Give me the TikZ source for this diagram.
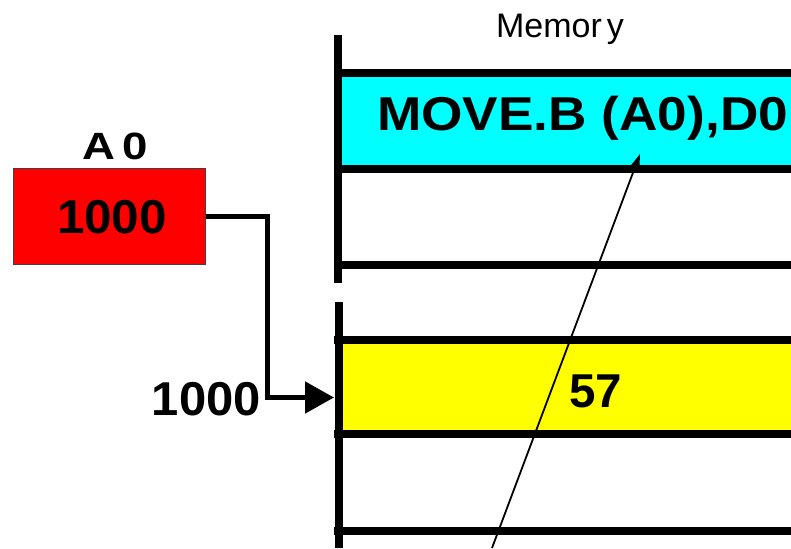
\documentclass[tikz,border=0pt]{standalone}
\usepackage{fontspec}
\setmainfont{Liberation Sans}
\usetikzlibrary{arrows.meta}
\definecolor{cellcyan}{RGB}{0,255,255}
\definecolor{cellyellow}{RGB}{255,255,0}
\definecolor{regred}{RGB}{255,0,0}
\begin{document}
\begin{tikzpicture}[x=1pt,y=-1pt,
  memline/.style={line width=8pt},
  cell/.style={rectangle, draw=none, inner sep=0pt, outer sep=0pt},
  conn/.style={line width=5pt, line join=miter, -{Triangle[length=29pt,width=31pt]}},
  ptr/.style={line width=1.8pt, -{Stealth[length=17pt,width=11pt,inset=5pt]}},
  bigtxt/.style={font=\fontsize{47.5}{47.5}\selectfont\bfseries, inner sep=0pt},
  lbltxt/.style={font=\fontsize{38}{38}\selectfont\bfseries, inner sep=0pt},
  memtxt/.style={font=\fontsize{34}{34}\selectfont, inner sep=0pt}
]
\useasboundingbox (0,0) rectangle (791,548);

% memory cells
\node[cell, fill=cellcyan, minimum width=449pt, minimum height=88pt] (instr) at (566.5,121) {};
\node[cell, fill=cellyellow, minimum width=449pt, minimum height=87pt] (data) at (566.5,386.5) {};

% memory lines
\draw[memline] (338,35) -- (338,283);
\draw[memline] (338.5,302) -- (338.5,548);
\draw[memline] (334,73) -- (791,73);
\draw[memline] (334,168.5) -- (791,168.5);
\draw[memline] (334,264.5) -- (791,264.5);
\draw[memline] (334,339.5) -- (791,339.5);
\draw[memline] (334,434) -- (791,434);
\draw[memline] (334,531) -- (791,531);

% texts
\node[memtxt, anchor=base] (memlbl) at (560,38) {Memor\kern5pt y};
\node[bigtxt, anchor=base west] (instrtxt) at (377,131) {\scalebox{1.12}[1]{MOVE.B (A0),D0}};
\node[bigtxt, anchor=base] (val) at (595.5,407) {57};

% register A0
\node[lbltxt, anchor=base] (a0lbl) at (115.5,160) {\scalebox{1.2}[1]{A\kern6pt 0}};
\node[rectangle, draw=black!75, line width=1pt, fill=regred, minimum width=192pt, minimum height=96pt, inner sep=0pt] (a0) at (109,216) {};
\node[bigtxt, anchor=base] (a0val) at (112,233) {\scalebox{1.04}[1]{1000}};

% address label
\node[bigtxt, anchor=base east] (addr) at (261,415) {\scalebox{1.03}[1]{1000}};

% connector
\coordinate (bend) at (267,397.5);
\coordinate (target) at (334,397.5);
\draw[conn] (a0.east) -| (bend) -- (target);

% pointer
\coordinate (ptrstart) at (492,548);
\coordinate (ptrtip) at (640,154);
\draw[ptr] (ptrstart) -- (ptrtip);
\end{tikzpicture}
\end{document}
